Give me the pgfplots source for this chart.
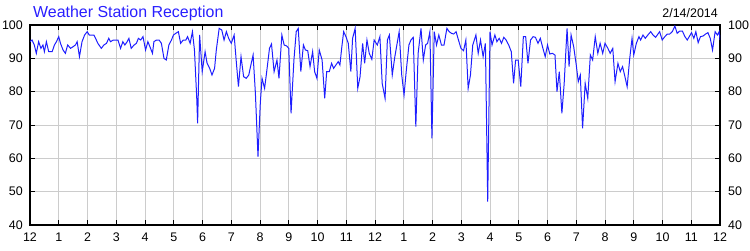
\documentclass[border=0pt]{standalone}
\usepackage{pgfplots}
\pgfplotsset{compat=1.18}
\usepackage{fontspec}
\setmainfont{Liberation Sans}
\definecolor{lineblue}{RGB}{30,30,255}
\definecolor{gridgray}{RGB}{204,204,204}
\definecolor{titleblue}{RGB}{40,30,255}
\begin{document}
\begin{tikzpicture}[x=1bp,y=1bp]
\path[use as bounding box] (0,0) rectangle (750,250);
\node[anchor=base west, text=titleblue, font=\fontsize{16}{18}\selectfont, inner sep=0pt] at (33,233) {Weather Station Reception};
\node[anchor=base east, font=\fontsize{12.5}{14}\selectfont, inner sep=0pt] at (718,233) {2/14/2014};
\begin{axis}[
  at={(30bp,25bp)}, anchor=south west,
  width=690bp, height=200bp, scale only axis,
  xmin=0, xmax=24, ymin=40, ymax=100,
  xtick={0,...,24},
  xticklabels={12,1,2,3,4,5,6,7,8,9,10,11,12,1,2,3,4,5,6,7,8,9,10,11,12},
  ytick={40,50,...,100},
  grid=major,
  major grid style={gridgray, line width=1bp},
  axis line style={black, line width=1.2bp},
  tick align=inside,
  major tick length=5bp,
  tick style={black, line width=1bp},
  xtick pos=both, xticklabel pos=lower,
  ytick pos=both, yticklabel pos=left,
  ticklabel style={font=\fontsize{12.5}{14}\selectfont, inner sep=0pt},
  xticklabel style={yshift=-8bp},
  yticklabel style={xshift=-7bp},
  /pgf/number format/assume math mode=true,
  axis on top=false,
]
\addplot[lineblue, line width=1bp] coordinates {
(0.00,95) (0.07,95.5) (0.15,94) (0.22,91.5) (0.30,95) (0.38,93) (0.45,94) (0.50,92)
(0.57,95) (0.65,92) (0.77,92) (0.85,94) (0.92,95) (1.00,96.5) (1.06,94.5) (1.15,92.5)
(1.23,91.5) (1.31,94) (1.41,93) (1.50,93.5) (1.58,94) (1.64,95) (1.72,90.5) (1.81,95)
(1.90,97) (1.99,98) (2.06,97) (2.14,97) (2.22,97) (2.28,96) (2.36,94.5) (2.48,93)
(2.57,94) (2.66,94.5) (2.74,96) (2.80,95) (2.90,95.5) (2.98,95.5) (3.06,95.5) (3.15,93)
(3.23,95) (3.30,94) (3.38,95) (3.44,96) (3.52,93) (3.62,94) (3.70,94.5) (3.77,96)
(3.85,95.5) (3.93,96.5) (4.02,92.5) (4.10,95) (4.17,93.5) (4.26,91.5) (4.31,95) (4.40,95.5)
(4.49,95.5) (4.57,94.5) (4.66,90) (4.74,89.5) (4.83,94) (4.92,95.5) (4.99,97) (5.07,97.5)
(5.16,98) (5.24,94.5) (5.33,95.5) (5.42,95.5) (5.48,96.5) (5.57,94.5) (5.65,98) (5.72,92.5)
(5.80,78) (5.83,70.5) (5.90,97) (5.99,86)
(6.09,92) (6.16,88.5) (6.25,87) (6.33,85) (6.42,87) (6.48,92.5) (6.58,99) (6.67,98.5)
(6.75,95.5) (6.83,98) (6.91,96) (7.00,94.5) (7.10,97) (7.18,88.5) (7.25,81.5) (7.34,90.5)
(7.43,84.5) (7.52,84) (7.61,85) (7.67,87.5) (7.76,91) (7.84,79.5) (7.93,60.5) (8.01,76.5)
(8.07,84) (8.16,81) (8.24,86.5) (8.33,93) (8.40,94.3) (8.49,86) (8.59,89.5) (8.66,84)
(8.76,97) (8.84,94) (8.93,93.7) (9.00,93) (9.08,73.5) (9.18,89.5) (9.26,98) (9.33,99)
(9.42,86) (9.51,94) (9.58,92.5) (9.66,92.3) (9.74,87.5) (9.83,92) (9.90,86) (9.98,84)
(10.06,92.5) (10.16,89.5) (10.25,78) (10.32,86) (10.41,86) (10.49,88.5) (10.56,87) (10.64,88)
(10.72,89) (10.78,88) (10.84,93) (10.91,98) (10.99,96.5) (11.07,94.5) (11.16,86) (11.22,96)
(11.31,99) (11.40,81) (11.48,84.5) (11.57,94.5) (11.64,88.5) (11.72,95.5) (11.80,91.5) (11.89,89.7)
(11.97,95.5)
(12.08,94) (12.17,96.5) (12.25,82.5) (12.35,78) (12.43,95.5) (12.50,97) (12.60,85) (12.69,90.5)
(12.78,95) (12.84,98) (12.93,85) (13.01,79) (13.09,86.5) (13.18,94) (13.25,95.5) (13.33,96.3)
(13.42,69.5) (13.50,91.5) (13.60,99) (13.68,89.5) (13.76,94) (13.83,94.5) (13.91,98) (13.98,66)
(14.06,98) (14.14,94) (14.22,97) (14.31,94) (14.40,94) (14.50,99) (14.58,98) (14.66,97.5)
(14.74,97.3) (14.82,98) (14.92,95) (14.99,93) (15.08,92.3) (15.16,95.5) (15.24,81) (15.32,85)
(15.40,94) (15.51,97) (15.59,91.5) (15.67,95.5) (15.76,90.5) (15.84,94.5) (15.92,47) (16.00,98)
(16.07,94) (16.17,97) (16.24,95) (16.32,96) (16.40,94.5) (16.48,96.3) (16.56,95.5) (16.65,94)
(16.74,92) (16.82,82.5) (16.89,89.5) (16.98,89.5) (17.07,81.5) (17.16,96.5) (17.24,96.5) (17.32,88.5)
(17.41,95.5) (17.50,96.5) (17.58,96.3) (17.67,94.5) (17.75,96) (17.84,93) (17.92,90.5) (18.00,94)
(18.08,91.3) (18.17,91.5) (18.26,91) (18.33,80) (18.41,86) (18.50,73.5) (18.58,82.5) (18.68,99)
(18.75,87.5) (18.82,97) (18.91,93.5) (19.00,88) (19.07,83) (19.14,85) (19.22,69) (19.31,82.5)
(19.40,78) (19.49,91) (19.57,89.5) (19.66,96.5) (19.75,91.5) (19.83,94.5) (19.92,91.5) (20.00,94.5)
(20.10,93) (20.18,91.5) (20.27,93) (20.35,83) (20.45,88.5) (20.53,86) (20.61,87.5) (20.68,85)
(20.77,81.5) (20.86,90) (20.94,96) (21.00,91) (21.09,94.5) (21.18,96.5) (21.24,95.5) (21.32,97)
(21.40,96) (21.49,97) (21.59,98) (21.67,97) (21.76,96.3) (21.90,98) (21.99,95.5) (22.08,96.5)
(22.17,97.3) (22.25,97.3) (22.34,98) (22.43,99.7) (22.51,97.5) (22.60,98.2) (22.69,98.2) (22.78,96.5)
(22.86,95.5) (22.93,96.5) (23.01,97.7) (23.09,96) (23.16,98) (23.24,94.7) (23.32,96.5) (23.41,96.7)
(23.50,97.3) (23.58,97.7) (23.66,96) (23.74,92.5) (23.83,98) (23.91,97) (23.97,98) (24.00,95.5)
};
\end{axis}
\begin{axis}[
  at={(30bp,25bp)}, anchor=south west,
  width=690bp, height=200bp, scale only axis,
  xmin=0, xmax=24, ymin=40, ymax=100,
  hide x axis,
  axis line style={draw=none},
  ytick={40,50,...,100},
  ytick pos=right, yticklabel pos=right,
  major tick length=0pt,
  ticklabel style={font=\fontsize{12.5}{14}\selectfont, inner sep=0pt},
  yticklabel style={xshift=8bp},
  /pgf/number format/assume math mode=true,
]
\end{axis}
\end{tikzpicture}
\end{document}
